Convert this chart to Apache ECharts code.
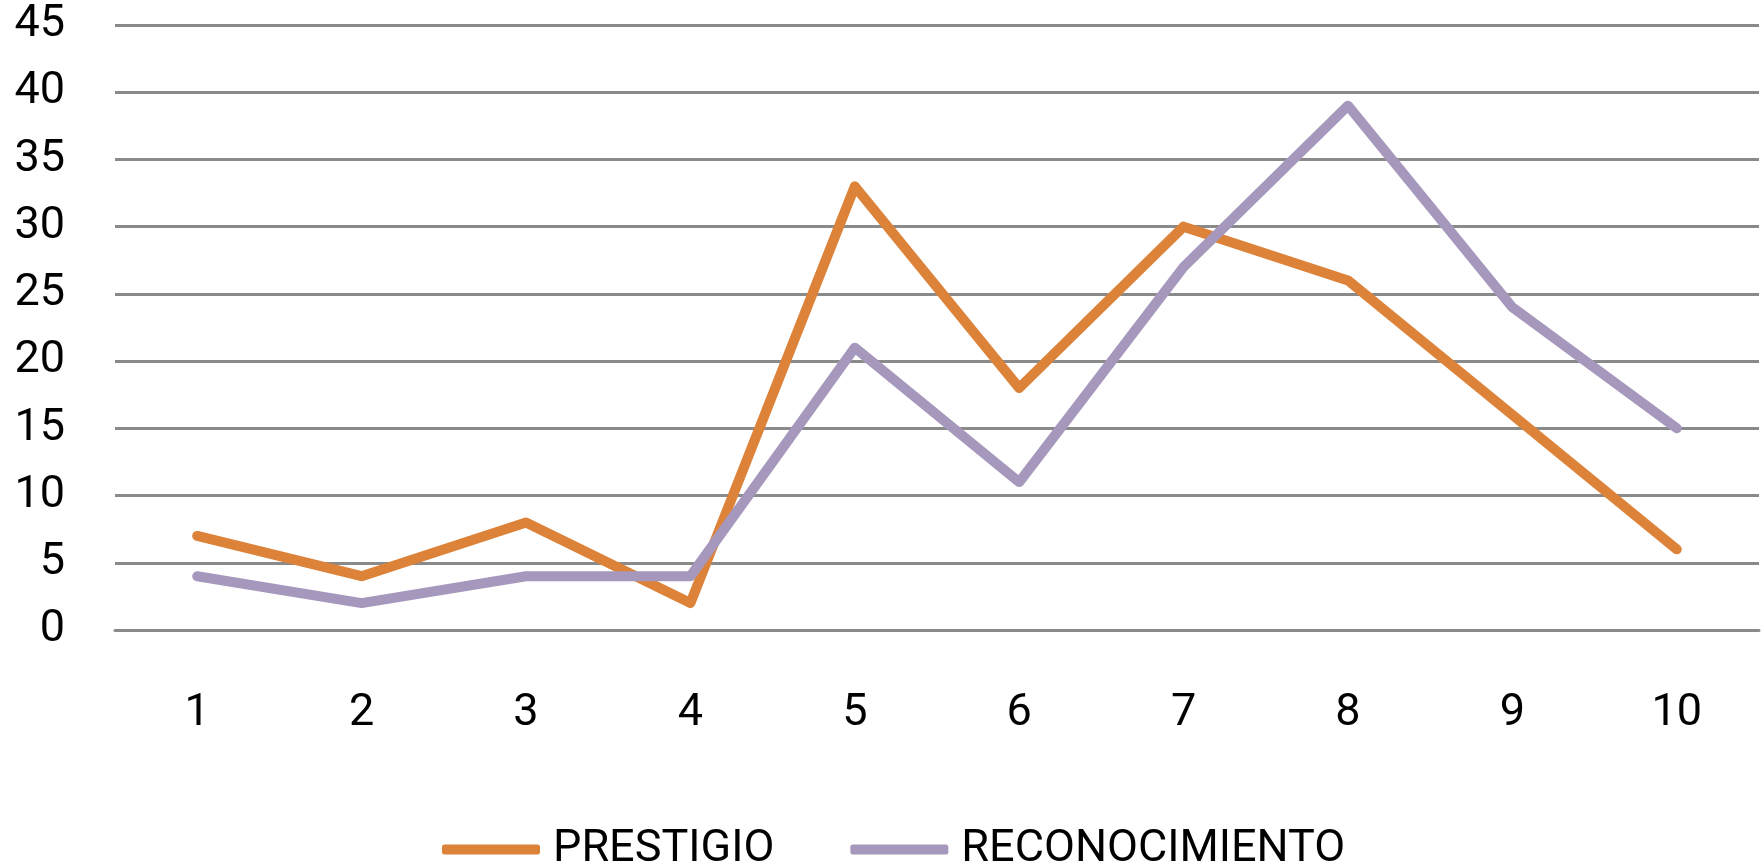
<!DOCTYPE html>
<html>
<head>
<meta charset="utf-8">
<script src="https://cdn.jsdelivr.net/npm/echarts@6/dist/echarts.min.js"></script>
<style>
html,body{margin:0;padding:0;background:#fff;}
#c{width:1764px;height:866px;}
</style>
</head>
<body>
<div id="c"></div>
<script>
const categories = ['1','2','3','4','5','6','7','8','9','10'];
const prestigio = [7, 4, 8, 2, 33, 18, 30, 26, 16, 6];
const reconocimiento = [4, 2, 4, 4, 21, 11, 27, 39, 24, 15];
const seriesNames = ['PRESTIGIO', 'RECONOCIMIENTO'];

const FONT = 'Roboto';
const chart = echarts.init(document.getElementById('c'), null, {renderer: 'canvas'});
chart.setOption({
  backgroundColor: '#ffffff',
  animation: false,
  grid: {left: 115, right: 5, top: 25, bottom: 236, containLabel: false},
  legend: {
    data: seriesNames,
    left: 437, top: 822,
    icon: 'roundRect',
    itemWidth: 98, itemHeight: 10,
    itemGap: 76,
    textStyle: {fontFamily: FONT, fontSize: 45, color: '#000', lineHeight: 44, padding: [0,0,0,8]}
  },
  xAxis: {
    type: 'category',
    data: categories,
    boundaryGap: true,
    axisLine: {show: true, lineStyle: {color: '#8a8a8a', width: 3}},
    axisTick: {show: false},
    axisLabel: {fontFamily: FONT, fontSize: 45, color: '#000', margin: 62, lineHeight: 44}
  },
  yAxis: {
    type: 'value',
    min: 0, max: 45, interval: 5,
    axisLine: {show: false},
    axisTick: {show: false},
    splitLine: {lineStyle: {color: '#8a8a8a', width: 3}},
    axisLabel: {fontFamily: FONT, fontSize: 45, color: '#000', margin: 50}
  },
  series: [
    {
      name: seriesNames[0], type: 'line', data: prestigio,
      symbol: 'none', showSymbol: false,
      itemStyle: {color: '#DC8239'},
      lineStyle: {color: '#DC8239', width: 10, cap: 'round', join: 'round'}
    },
    {
      name: seriesNames[1], type: 'line', data: reconocimiento,
      symbol: 'none', showSymbol: false,
      itemStyle: {color: '#A698BC'},
      lineStyle: {color: '#A698BC', width: 10, cap: 'round', join: 'round'}
    }
  ]
});
</script>
</body>
</html>
